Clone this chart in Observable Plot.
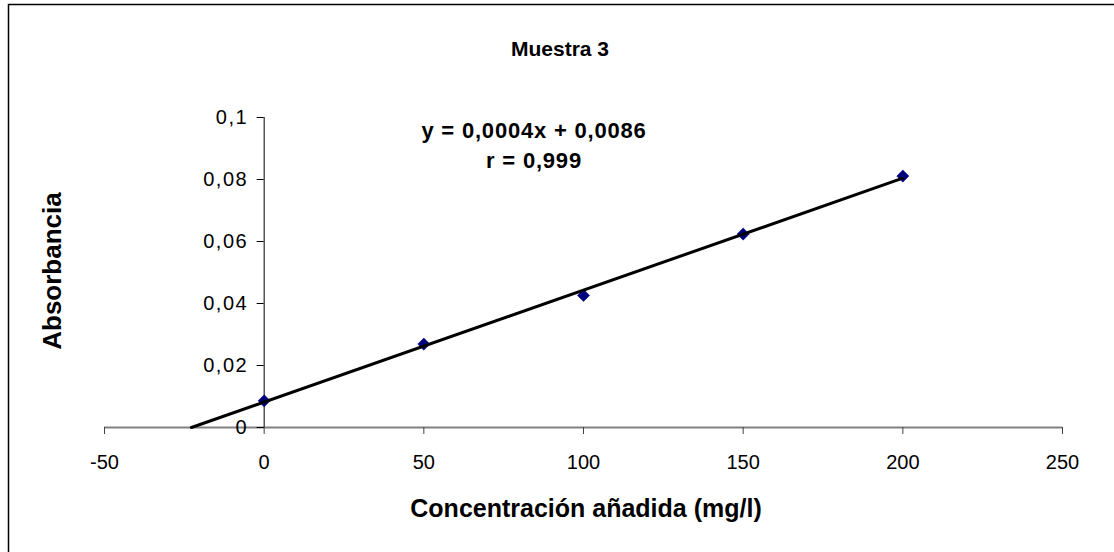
<!DOCTYPE html>
<html><head><meta charset="utf-8">
<script src="https://cdn.jsdelivr.net/npm/d3@7"></script>
<script src="https://cdn.jsdelivr.net/npm/@observablehq/plot@0.6"></script>
<style>
html,body{margin:0;padding:0;background:#fff}
svg{font-family:"Liberation Sans",Arial,sans-serif}
</style>
</head><body><div id="chart"></div>
<script>
const title = "Muestra 3";
const xLabel = "Concentración añadida (mg/l)";
const yLabel = "Absorbancia";
const concentration = [0, 50, 100, 150, 200];
const absorbance = [0.0086, 0.0269, 0.0426, 0.0624, 0.0811];
const xTicks = [-50, 0, 50, 100, 150, 200, 250];
const yTicks = [0, 0.02, 0.04, 0.06, 0.08, 0.1];
const equationText = "y = 0,0004x + 0,0086";
const rText = "r = 0,999";

const points = concentration.map((x, i) => ({x, y: absorbance[i]}));
const mx = d3.mean(concentration), my = d3.mean(absorbance);
const slope = d3.sum(points, p => (p.x - mx) * (p.y - my)) / d3.sum(points, p => (p.x - mx) ** 2);
const intercept = my - slope * mx;
const xEnd = d3.max(concentration);
const trend = [{x: -intercept / slope, y: 0}, {x: xEnd, y: intercept + slope * xEnd}];

const fmt = d => String(d).replace(".", ",");
const W = 1114, H = 552;

const chart = Plot.plot({
  width: W, height: H,
  marginLeft: 104, marginRight: 52, marginTop: 117, marginBottom: 125,
  style: {fontFamily: '"Liberation Sans", Arial, sans-serif', fontSize: "20px", background: "#fff", color: "#000"},
  x: {domain: [-50, 250], axis: null},
  y: {domain: [0, 0.1], axis: null},
  marks: [
    Plot.ruleY([0], {stroke: "#808080", strokeWidth: 2}),
    Plot.axisX({ticks: xTicks, tickSize: 7, tickPadding: 20, tickFormat: fmt, stroke: "#444", fill: "#000", fontSize: 20, label: null}),
    Plot.ruleX([0], {y1: 0, y2: 0.1, stroke: "#000", strokeWidth: 1}),
    Plot.ruleY(yTicks, {y: d => d, x1: 0, x2: 0, insetLeft: -7, stroke: "#000"}),
    Plot.text(yTicks, {x: 0, y: d => d, text: fmt, dx: -16, textAnchor: "end", fontSize: 20, fill: "#000"}),
    Plot.dot(points, {x: "x", y: "y", symbol: "diamond2", r: 5.5, fill: "#000080", stroke: "#000080", strokeWidth: 0.5}),
    Plot.line(trend, {x: "x", y: "y", stroke: "#000", strokeWidth: 3})
  ]
});

const svg = d3.select(chart);
svg.selectAll("g[aria-label='text'] text").attr("letter-spacing", "1.5px");
svg.insert("rect", ":first-child")
  .attr("x", 8.5).attr("y", 4.5).attr("width", 1200).attr("height", 600)
  .attr("fill", "none").attr("stroke", "#000").attr("stroke-width", 1.5);
svg.append("text").attr("x", 560).attr("y", 56).attr("text-anchor", "middle")
  .attr("font-weight", "bold").attr("font-size", 21).attr("fill", "#000").text(title);
svg.append("text").attr("x", 586).attr("y", 517).attr("text-anchor", "middle")
  .attr("font-weight", "bold").attr("font-size", 25).attr("fill", "#000").text(xLabel);
svg.append("text").attr("transform", "translate(52,271) rotate(-90)").attr("dy", "0.36em")
  .attr("text-anchor", "middle").attr("font-weight", "bold").attr("font-size", 26).attr("fill", "#000").text(yLabel);
svg.append("text").attr("x", 534).attr("y", 138).attr("text-anchor", "middle")
  .attr("font-weight", "bold").attr("font-size", 22).attr("letter-spacing", "0.8px").attr("fill", "#000").text(equationText);
svg.append("text").attr("x", 534).attr("y", 168).attr("text-anchor", "middle")
  .attr("font-weight", "bold").attr("font-size", 22).attr("letter-spacing", "0.8px").attr("fill", "#000").text(rText);

document.getElementById("chart").appendChild(chart);
</script>
</body></html>
